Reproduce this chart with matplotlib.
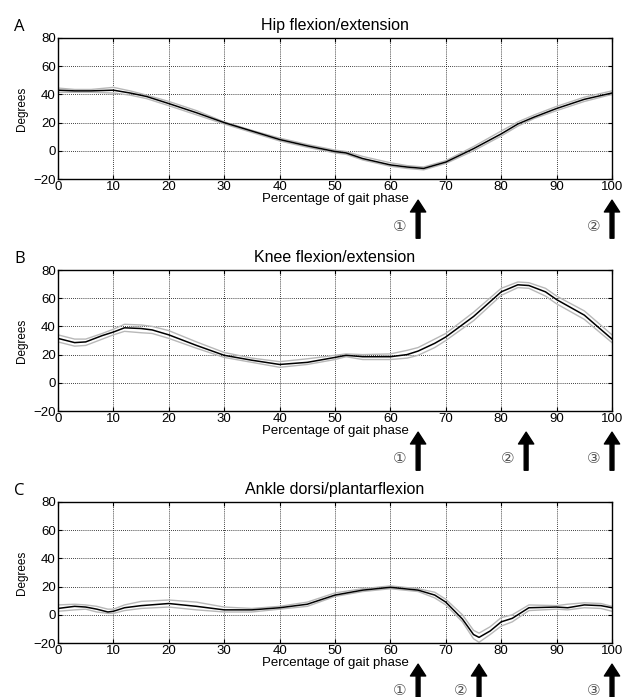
import matplotlib
matplotlib.use("Agg")
import matplotlib.pyplot as plt

plt.rcParams['font.family'] = ['Liberation Sans', 'DejaVu Sans', 'Noto Sans CJK SC']

# Hip flexion/extension (mean and +/- SD)
hip_x = [0, 3, 6, 10, 13, 16, 20, 25, 30, 35, 40, 45, 50, 52, 55, 60, 63, 66, 70, 75, 80, 83, 86, 90, 95, 100]
hip_mean = [43, 42.5, 42.5, 43, 41, 38.5, 33.5, 27, 20, 14, 8, 3.5, -0.5, -1.5, -5.5, -10, -11.5, -12.5,
            -8, 1.5, 12, 19, 24, 30, 36.5, 41]
hip_upper = [44.5, 43.5, 43.5, 45, 42.5, 39.5, 35, 28.5, 20.5, 14.5, 9, 4.5, 0.5, -0.5, -4, -8.5, -10.5,
             -11.5, -7, 3, 14, 20.5, 25.5, 31.5, 38, 42.5]
hip_lower = [41.5, 41.5, 41.5, 41, 39.5, 37, 32, 25.5, 19, 13, 7, 2.5, -1.5, -2.5, -6.5, -11, -12.5, -13.5,
             -9, 0, 10.5, 17.5, 23, 28.5, 35, 40]

# Knee flexion/extension
knee_x = [0, 3, 5, 8, 10, 12, 15, 17, 20, 25, 30, 35, 40, 45, 50, 52, 55, 60, 63, 65, 68, 70, 75, 80, 83,
          85, 88, 90, 95, 100]
knee_mean = [31.5, 28.5, 29, 33.5, 36, 39, 38.5, 37.5, 34, 26.5, 19.5, 16, 13, 14.5, 18, 19.5, 18.5, 18.5,
             20, 22.5, 28, 32.5, 47, 64.5, 69.5, 69, 64.5, 59, 48, 31]
knee_upper = [34, 31, 31, 35, 38, 41.5, 41, 40, 37, 29, 21.5, 17.5, 15, 17, 19.5, 20.5, 20, 20.5, 23, 25,
              31, 35, 50, 67, 71.5, 71, 67, 61.5, 51, 34]
knee_lower = [29, 26, 26.5, 31, 34, 36.5, 35.5, 35, 31.5, 24.5, 18, 14.5, 11, 13, 16.5, 18.5, 16.5, 16.5,
              17.5, 19.5, 25, 30, 44, 62, 67.5, 67, 61.5, 56, 45, 28.5]

# Ankle dorsi/plantarflexion
ank_x = [0, 3, 5, 7, 9, 10, 12, 15, 20, 25, 30, 35, 40, 45, 50, 55, 60, 65, 68, 70, 73, 75, 76, 78, 80,
         82, 85, 90, 92, 95, 98, 100]
ank_mean = [4.5, 6, 5.5, 4, 2, 2.5, 5, 6.5, 8, 6, 3.5, 3.5, 5, 7.5, 14, 17.5, 19.5, 17.5, 14, 9, -3, -14,
            -16, -11.5, -5, -2.5, 5, 5.5, 5, 7, 6.5, 5]
ank_upper = [7, 7.5, 7, 6, 4, 4, 7, 9.5, 10.5, 9, 5.5, 4.5, 6, 9, 15.5, 18.5, 20.5, 18.5, 16, 11, 0, -11,
             -13, -8.5, -2, 0, 7, 6.5, 7.5, 8.5, 8, 6]
ank_lower = [2.5, 3.5, 4, 2, 1, 1, 3, 4.5, 5.5, 3.5, 2, 2, 4, 6, 13, 16.5, 18.5, 16.5, 12, 7, -5, -17,
             -19.5, -14, -8, -5, 3, 4, 3.5, 5, 4.5, 2.5]

titles = ["Hip flexion/extension", "Knee flexion/extension", "Ankle dorsi/plantarflexion"]
letters = ["A", "B", "C"]
events = [[65, 100], [65, 84.5, 100], [65, 76, 100]]
event_labels = [["①", "②"], ["①", "②", "③"], ["①", "②", "③"]]

panels = [(hip_x, hip_mean, hip_upper, hip_lower),
          (knee_x, knee_mean, knee_upper, knee_lower),
          (ank_x, ank_mean, ank_upper, ank_lower)]

W, H = 622, 697
fig = plt.figure(figsize=(W / 100, H / 100), dpi=100)
tops = [38, 270, 502]

for i, (x, m, up, lo) in enumerate(panels):
    ax = fig.add_axes([58 / W, 1 - (tops[i] + 141) / H, 554 / W, 141 / H])
    ax.plot(x, up, color="#b8b8b8", lw=1.0)
    ax.plot(x, lo, color="#b8b8b8", lw=1.0)
    ax.plot(x, m, color="black", lw=1.1)
    ax.set_xlim(0, 100)
    ax.set_ylim(-20, 80)
    ax.set_xticks(range(0, 101, 10))
    ax.set_yticks(range(-20, 81, 20))
    ax.grid(True, color="black", linestyle=(0, (1, 1.5)), lw=0.6)
    ax.tick_params(direction="in", top=True, right=True, labelsize=9.5, length=3, pad=1.5)
    for s in ax.spines.values():
        s.set_linewidth(1.0)
    ax.set_title(titles[i], fontsize=11.5, pad=6)
    ax.set_ylabel("Degrees", fontsize=8.5, labelpad=4)
    ax.set_xlabel("Percentage of gait phase", fontsize=9.5, labelpad=0)
    fig.text(14 / W, 1 - (tops[i] - 11) / H, letters[i], fontsize=12, family="Open Sans",
             ha="left", va="center")

    for ev, lab in zip(events[i], event_labels[i]):
        ax.annotate("", xy=(ev, -0.15), xytext=(ev, -0.42),
                    xycoords=("data", "axes fraction"), textcoords=("data", "axes fraction"),
                    arrowprops=dict(facecolor="black", edgecolor="black", width=2.8,
                                    headwidth=11, headlength=8.5, shrink=0),
                    annotation_clip=False)
        ax.annotate(lab, xy=(ev, -0.335), xycoords=("data", "axes fraction"),
                    xytext=(-13, 0), textcoords="offset points", ha="center", va="center",
                    fontsize=11, color="#555555", family=["DejaVu Sans", "Noto Sans CJK SC"],
                    annotation_clip=False)

fig.savefig("out.png", dpi=100)
